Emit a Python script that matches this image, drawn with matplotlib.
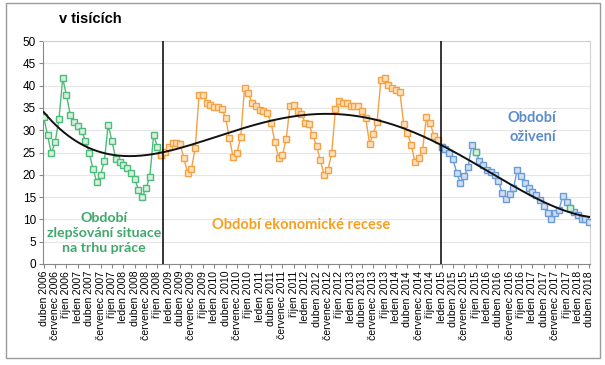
import numpy as np
import matplotlib
matplotlib.use("Agg")
import matplotlib.pyplot as plt
from matplotlib.patches import Rectangle

# -----------------------------
# Data (monthly, duben 2006 .. duben 2018), in thousands
# -----------------------------
months = ["duben", "červenec", "říjen", "leden"]
first_year = 2006

# improving labour market: duben 2006 .. listopad 2008
green_vals = [32.9, 28.9, 24.8, 27.3, 32.4, 41.6, 37.9, 33.4, 31.8, 30.9,
              29.8, 27.6, 25.0, 21.3, 18.4, 20.0, 23.1, 31.2, 27.6, 23.6,
              22.9, 22.2, 21.6, 20.3, 19.1, 16.7, 15.1, 17.0, 19.6, 28.9,
              26.3, 24.4]

# recession: listopad 2008 .. leden 2015
orange_vals = [24.4, 25.2, 26.2, 27.1, 27.2, 26.9, 23.7, 20.3, 21.4, 26.1,
               38.0, 38.0, 36.2, 35.7, 35.3, 35.3, 34.8, 32.8, 28.2, 23.9,
               25.0, 28.5, 39.4, 38.3, 36.0, 35.4, 34.6, 34.2, 33.8, 31.7,
               27.4, 23.7, 24.4, 28.0, 35.4, 35.6, 34.2, 33.6, 31.7, 31.3,
               28.9, 26.5, 23.3, 20.0, 21.1, 24.8, 34.7, 36.6, 36.2, 36.0,
               35.5, 35.5, 35.4, 34.4, 32.7, 27.0, 29.2, 31.9, 41.3, 41.6,
               40.1, 39.5, 39.0, 38.6, 31.5, 29.3, 26.7, 22.9, 23.7, 25.6,
               33.0, 31.7, 28.7, 27.8, 26.3]

# recovery: leden 2015 .. duben 2018
blue_vals = [26.3, 25.7, 24.8, 23.5, 20.5, 18.1, 19.7, 21.7, 26.7, 25.2,
             23.2, 22.2, 21.1, 20.7, 20.0, 18.6, 16.0, 14.5, 15.8, 17.0,
             21.1, 19.7, 18.1, 17.0, 16.2, 15.5, 14.3, 13.0, 11.4, 10.2,
             11.4, 12.1, 15.2, 14.0, 12.5, 11.7, 11.0, 10.2, 10.0, 9.5]
# points of the recovery series drawn with a green marker
blue_green_idx = [9, 34]

green_start = 0
orange_start = 31
blue_start = 105
n_months = 145

# -----------------------------
# Figure
# -----------------------------
plt.rcParams["font.family"] = ["Liberation Sans", "DejaVu Sans"]

fig = plt.figure(figsize=(6.05, 3.65), dpi=100)
fig.patch.set_facecolor("white")
fig.add_artist(Rectangle((6 / 605, 1 - 358 / 365), 594 / 605, 355 / 365,
                         transform=fig.transFigure, fill=False,
                         edgecolor="#9a9a9a", lw=1.0))

ax = fig.add_axes([43 / 605, 1 - 264 / 365, 547 / 605, 223 / 365])

x_green = np.arange(green_start, green_start + len(green_vals))
x_orange = np.arange(orange_start, orange_start + len(orange_vals))
x_blue = np.arange(blue_start, blue_start + len(blue_vals))

# full series for the polynomial trend
all_x = np.concatenate([x_green[:-1], x_orange[:-1], x_blue])
all_y = np.concatenate([green_vals[:-1], orange_vals[:-1], blue_vals])
coef = np.polyfit(all_x, all_y, 4)
tx = np.linspace(0, n_months - 1, 400)

for ys in range(5, 51, 5):
    ax.axhline(ys, color="#e6e6e6", lw=0.8, zorder=0)

ax.plot(x_green, green_vals, color="#4dbb7a", lw=1, marker="s", ms=5,
        mfc="#d8f1df", mec="#4dbb7a", mew=1, zorder=3)
ax.plot(x_orange, orange_vals, color="#f5a143", lw=1, marker="s", ms=5,
        mfc="#fde1bd", mec="#f5a143", mew=1, zorder=3)
ax.plot(x_blue, blue_vals, color="#6b9bd6", lw=1, marker="s", ms=5,
        mfc="#cfdef2", mec="#6b9bd6", mew=1, zorder=3)
ax.plot(x_blue[blue_green_idx], np.array(blue_vals)[blue_green_idx],
        ls="none", marker="s", ms=5, mfc="#d8f1df", mec="#4dbb7a", mew=1,
        zorder=3)
ax.plot(tx, np.polyval(coef, tx), color="#111111", lw=1.4, zorder=4)

ax.axvline(31.5, color="black", lw=1.1, zorder=5)
ax.axvline(104.8, color="black", lw=1.1, zorder=5)

ax.set_xlim(-0.2, n_months - 0.8)
ax.set_ylim(0, 50)
ax.set_yticks(range(0, 51, 5))
ax.tick_params(axis="y", labelsize=8.5, length=3, color="#888888", pad=2)

tick_pos = list(range(0, n_months, 3))
tick_lab = []
for k in tick_pos:
    year = first_year + (k + 3) // 12
    tick_lab.append(f"{months[(k // 3) % 4]} {year}")
ax.set_xticks(tick_pos)
ax.set_xticklabels(tick_lab, rotation=90, fontsize=7.6)
ax.tick_params(axis="x", length=3, color="#888888", pad=2)

for side in ["top", "right"]:
    ax.spines[side].set_color("#d0d0d0")
ax.spines["left"].set_color("#888888")
ax.spines["bottom"].set_color("#888888")

fig.text(90 / 605, 1 - 19 / 365, "v tisících", fontsize=10.5, weight="bold",
         ha="center", va="center")
ax.text(16, 7.0, "Období\nzlepšování situace\nna trhu práce", color="#3fa86c",
        fontsize=10.2, weight="bold", ha="center", va="center",
        family=["Lato", "DejaVu Sans"], linespacing=1.3)
ax.text(68, 8.8, "Období ekonomické recese", color="#f5a021",
        fontsize=10.5, weight="bold", ha="center", va="center",
        family=["Lato", "DejaVu Sans"])
ax.text(129, 30.6, "Období\noživení", color="#5a8ccc",
        fontsize=10.5, weight="bold", ha="center", va="center",
        family=["Lato", "DejaVu Sans"], linespacing=1.45)

fig.savefig("out.png", dpi=100)
